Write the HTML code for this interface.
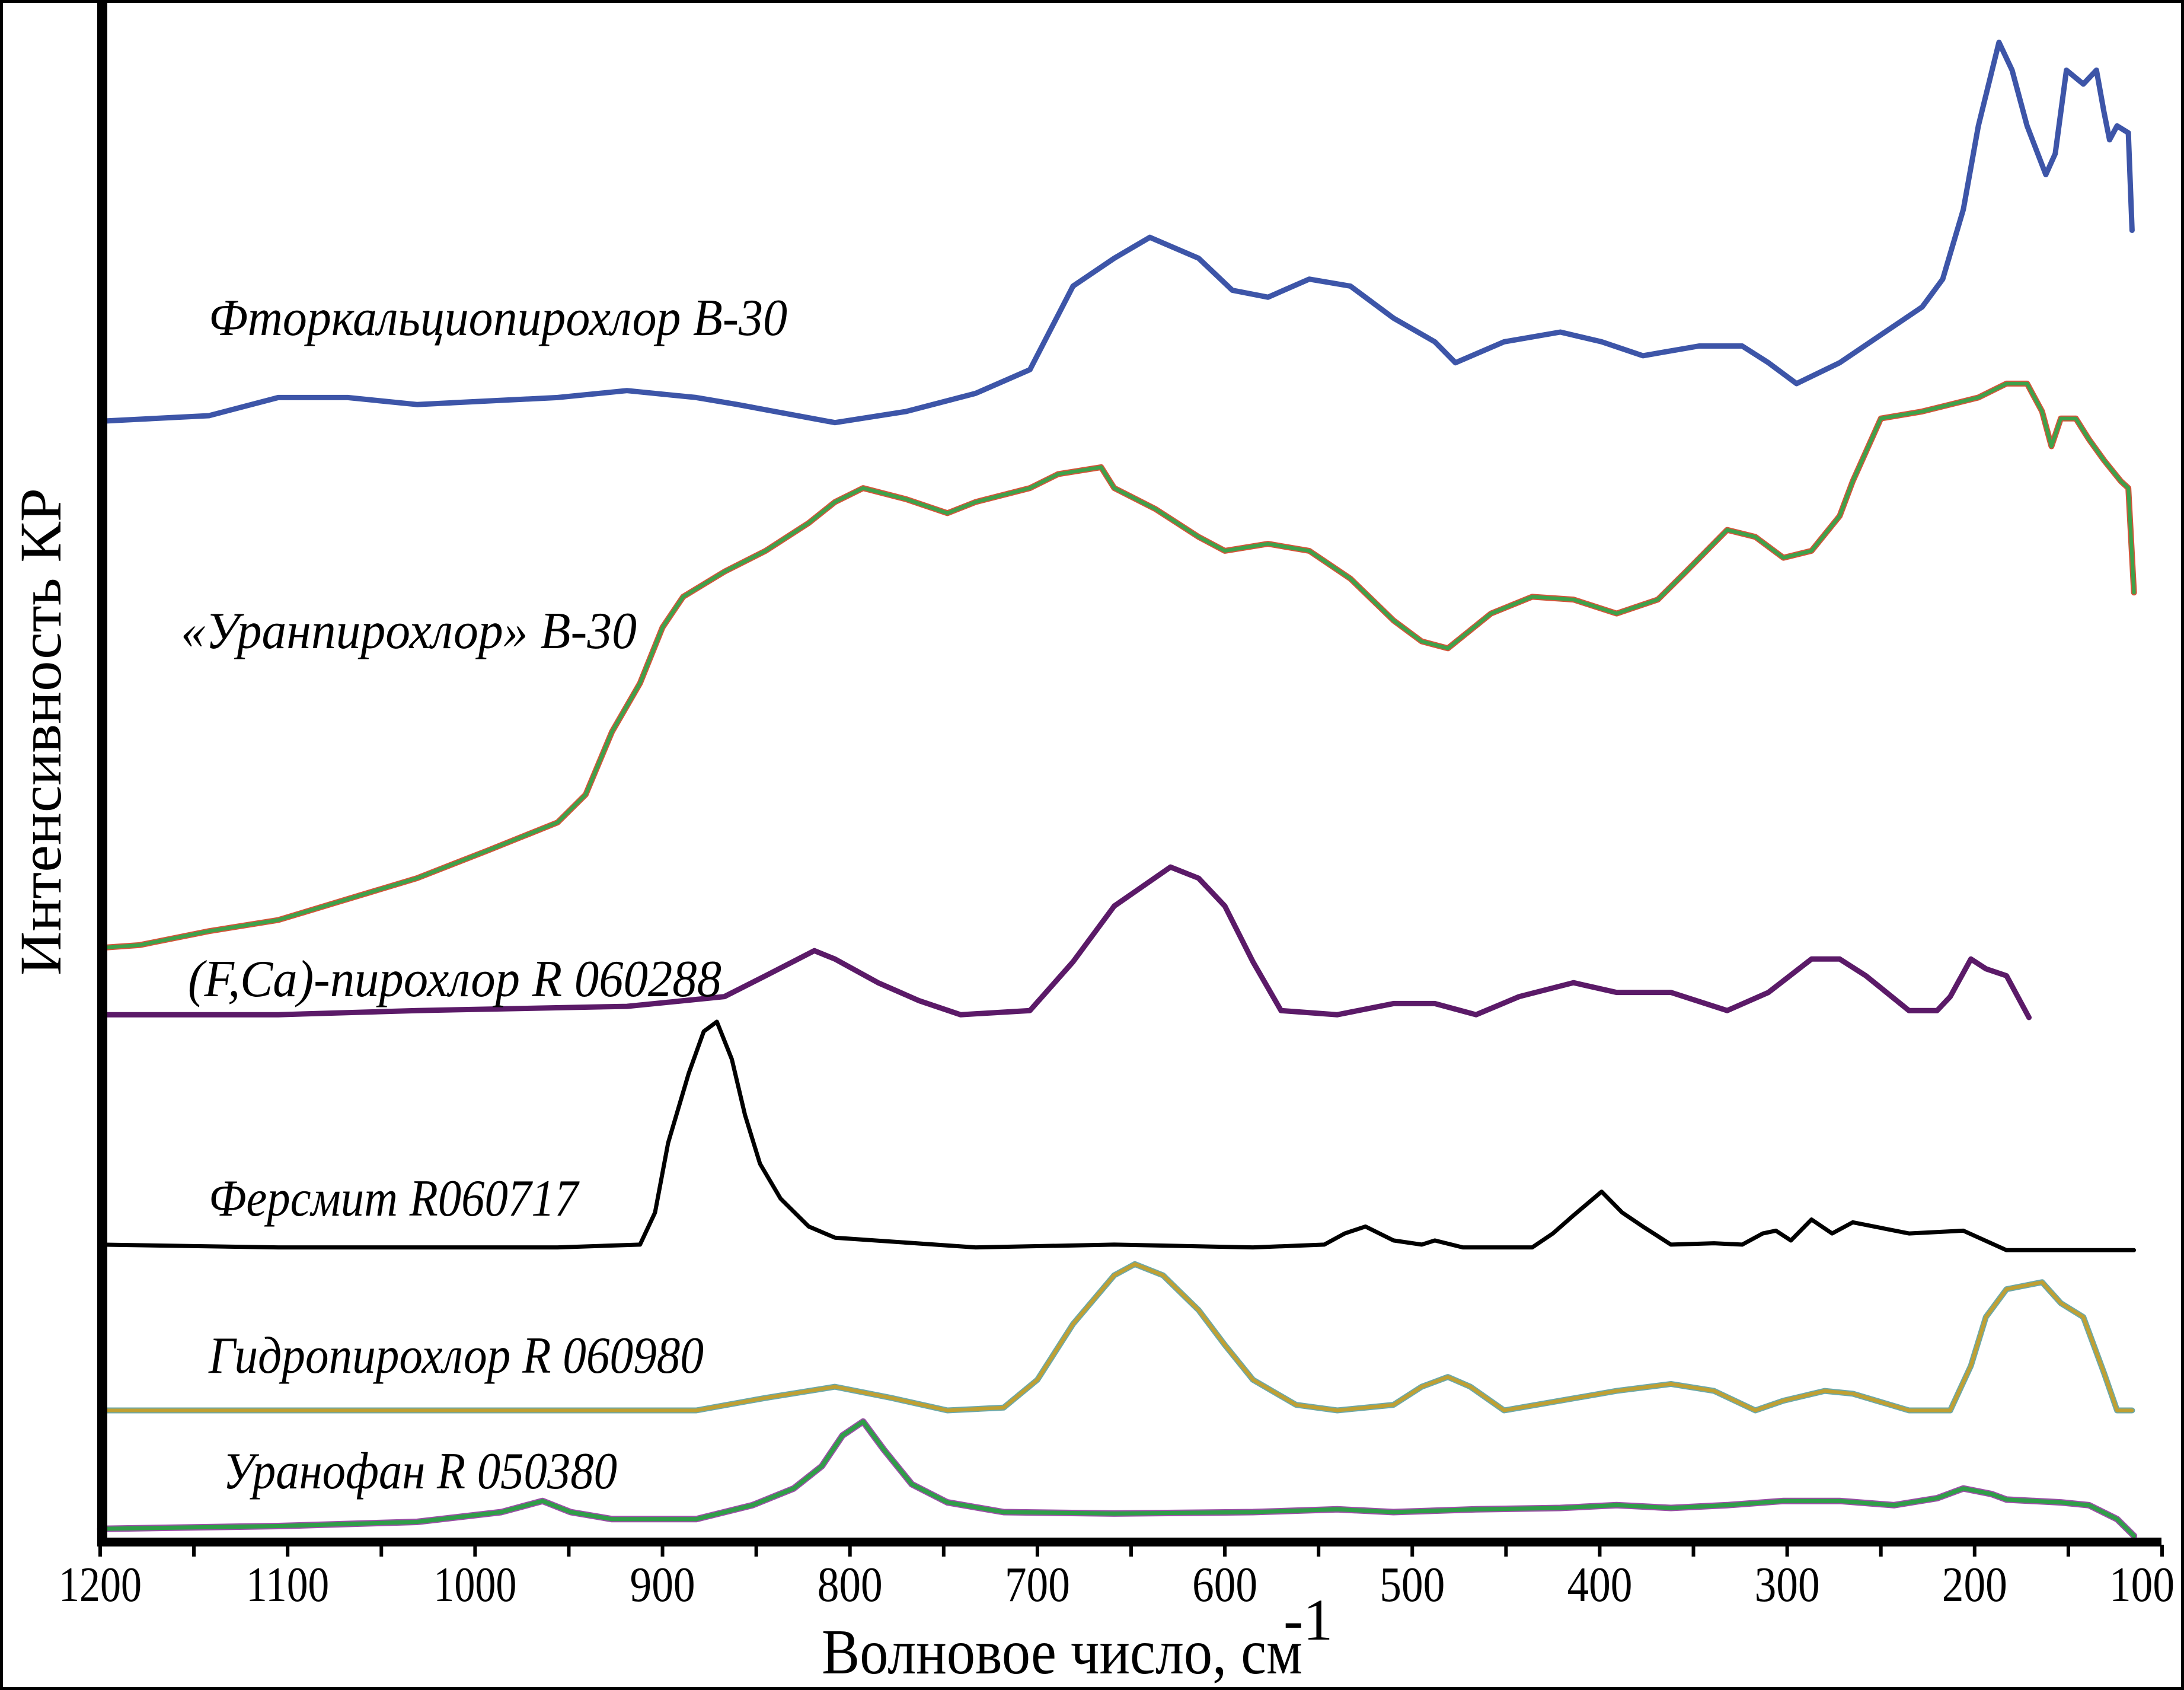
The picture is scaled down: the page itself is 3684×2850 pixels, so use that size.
<!DOCTYPE html>
<html><head><meta charset="utf-8"><style>html,body{margin:0;padding:0;background:#fff}svg{display:block}</style></head>
<body>
<svg id="chart" xmlns="http://www.w3.org/2000/svg" width="3684" height="2850" viewBox="0 0 3684 2850">
<rect x="2.5" y="2.5" width="3679" height="2845" fill="#fff" stroke="#000" stroke-width="5"/>
<g id="series"></g>
<rect x="164" y="5" width="17" height="2603" fill="#000"/>
<rect x="164" y="2593" width="3482" height="15" fill="#000"/>
<g id="ticks"></g>
<g font-family="Liberation Serif, serif" font-style="italic" font-size="88" fill="#000">
<text x="352" y="565" textLength="976" lengthAdjust="spacingAndGlyphs">Фторкальциопирохлор B-30</text>
<text x="305" y="1093" textLength="769" lengthAdjust="spacingAndGlyphs">«Уранпирохлор» B-30</text>
<text x="317" y="1680" textLength="900" lengthAdjust="spacingAndGlyphs">(F,Ca)-пирохлор R 060288</text>
<text x="352" y="2050" textLength="623" lengthAdjust="spacingAndGlyphs">Ферсмит R060717</text>
<text x="352" y="2315" textLength="835" lengthAdjust="spacingAndGlyphs">Гидропирохлор R 060980</text>
<text x="376" y="2510" textLength="665" lengthAdjust="spacingAndGlyphs">Уранофан R 050380</text>
</g>
<text x="1386" y="2822" font-family="Liberation Serif, serif" font-size="108" textLength="811" lengthAdjust="spacingAndGlyphs">Волновое число, см</text>
<text x="2165" y="2765" font-family="Liberation Serif, serif" font-size="100">-1</text>
<text transform="translate(102,1234) rotate(-90)" text-anchor="middle" font-family="Liberation Serif, serif" font-size="100" textLength="822" lengthAdjust="spacingAndGlyphs">Интенсивность КР</text>
</svg>
<script>
const tickValues = [1200,1100,1000,900,800,700,600,500,400,300,200,100];
const minorTicks = [1150,1050,950,850,750,650,550,450,350,250,150];
const blueWn = [1200,1142,1105,1068,1031,956,919,882,860,808,770,733,704,681,659,640,614,596,577,555,533,510,488,477,451,421,399,377,347,324,310,295,272,250,228,217,206,198,187,180,172,162,157,151,142,135,131,128,124,118,116];
const blueI = [803,807,820,820,815,820,825,820,815,802,810,823,840,900,920,935,920,897,892,905,900,877,860,845,860,867,860,850,857,857,845,830,845,865,885,905,955,1015,1075,1055,1015,980,995,1055,1045,1055,1025,1005,1015,1010,940];
const greenWn = [1200,1179,1142,1105,1068,1031,993,956,941,927,912,900,889,867,845,822,808,793,770,748,733,704,689,666,659,637,614,600,577,555,533,510,495,481,458,436,414,391,369,354,332,317,302,287,272,265,250,228,213,198,183,172,164,159,154,146,139,131,122,118,115];
const greenI = [425,427,437,445,460,475,495,515,535,580,615,655,677,695,710,730,745,755,747,737,745,755,765,770,755,740,720,710,715,710,690,660,645,640,665,677,675,665,675,695,725,720,705,710,735,760,805,810,815,820,830,830,810,785,805,805,790,775,760,755,680];
const purpleWn = [1200,1105,1031,919,867,845,819,808,785,763,741,704,681,659,629,614,600,585,570,540,510,488,466,443,414,391,362,332,310,287,272,258,235,220,213,202,194,183,171];
const purpleI = [377,377,380,383,390,405,423,417,400,387,377,380,415,455,483,475,455,415,380,377,385,385,377,390,400,393,393,380,393,417,417,405,380,380,390,417,410,405,375];
const blackWn = [1200,1105,1031,956,912,904,897,886,878,871,863,856,848,837,822,808,733,659,585,547,536,525,510,495,488,473,436,425,414,399,388,377,362,339,324,313,306,298,287,276,265,235,206,183,115];
const blackI = [212,210,210,210,212,235,285,335,365,372,345,305,270,245,225,217,210,212,210,212,220,225,215,212,215,210,210,220,233,250,235,225,212,213,212,220,222,215,230,220,228,220,222,208,208];
const goldWn = [1200,1031,882,845,808,778,748,718,700,681,659,648,633,614,600,585,562,540,510,495,481,469,451,421,391,362,339,317,302,280,265,235,213,202,194,183,164,154,142,131,124,116];
const goldI = [93,93,93,102,110,102,93,95,115,155,190,198,190,165,140,115,97,93,97,110,117,110,93,100,107,112,107,93,100,107,105,93,93,125,160,180,185,170,160,120,93,93];
const uranWn = [1200,1105,1031,986,964,949,927,882,852,830,815,804,793,782,767,748,718,659,585,540,510,466,421,391,362,332,302,272,243,220,206,191,183,154,139,124,115];
const uranI = [8,10,13,20,28,20,15,15,25,37,53,75,85,65,40,27,20,19,20,22,20,22,23,25,23,25,28,28,25,30,37,33,29,27,25,15,3];

function xS(v){ return 169 + (1200 - v) * 3.1618; }
function yS(i){ return 2597 - i * 2.3495; }
const NS = "http://www.w3.org/2000/svg";
const sg = document.getElementById('series');
function pts(wn, inten){
  const n = Math.min(wn.length, inten.length);
  const a = [];
  for (let k = 0; k < n; k++) a.push(xS(wn[k]).toFixed(1) + ',' + yS(inten[k]).toFixed(1));
  return a.join(' ');
}
function line(wn, inten, color, w){
  const p = document.createElementNS(NS, 'polyline');
  p.setAttribute('points', pts(wn, inten));
  p.setAttribute('fill', 'none');
  p.setAttribute('stroke', color);
  p.setAttribute('stroke-width', w);
  p.setAttribute('stroke-linejoin', 'round');
  p.setAttribute('stroke-linecap', 'round');
  sg.appendChild(p);
  return p;
}
let el;
el = line(blueWn, blueI, '#3d55a8', 9);


el = line(greenWn, greenI, '#d2553a', 10);


el = line(greenWn, greenI, '#3da24a', 6);


el = line(purpleWn, purpleI, '#5b1a68', 9);


el = line(blackWn, blackI, '#000000', 7);


el = line(goldWn, goldI, '#6ca8a8', 10);


el = line(goldWn, goldI, '#c0a032', 6);


el = line(uranWn, uranI, '#9b4fa6', 11);


el = line(uranWn, uranI, '#2f9e48', 7);



const tg = document.getElementById('ticks');
function tick(v){
  const r = document.createElementNS(NS, 'rect');
  r.setAttribute('x', xS(v) - 3);
  r.setAttribute('y', 2605);
  r.setAttribute('width', 6);
  r.setAttribute('height', 20);
  r.setAttribute('fill', '#000');
  
  
  tg.appendChild(r);
}
tickValues.forEach(v => {
  tick(v);
  const t = document.createElementNS(NS, 'text');
  const s = String(v);
  const len = s.length === 4 ? 140 : 110;
  let cx = xS(v);
  if (cx + len / 2 > 3668) cx = 3668 - len / 2;
  t.setAttribute('x', cx - len / 2);
  t.setAttribute('y', 2700);
  t.setAttribute('textLength', len);
  t.setAttribute('lengthAdjust', 'spacingAndGlyphs');
  t.setAttribute('font-family', 'Liberation Serif, serif');
  t.setAttribute('font-size', '84');
  
  
  t.textContent = s;
  tg.appendChild(t);
});
minorTicks.forEach(v => tick(v));
</script>
</body></html>
